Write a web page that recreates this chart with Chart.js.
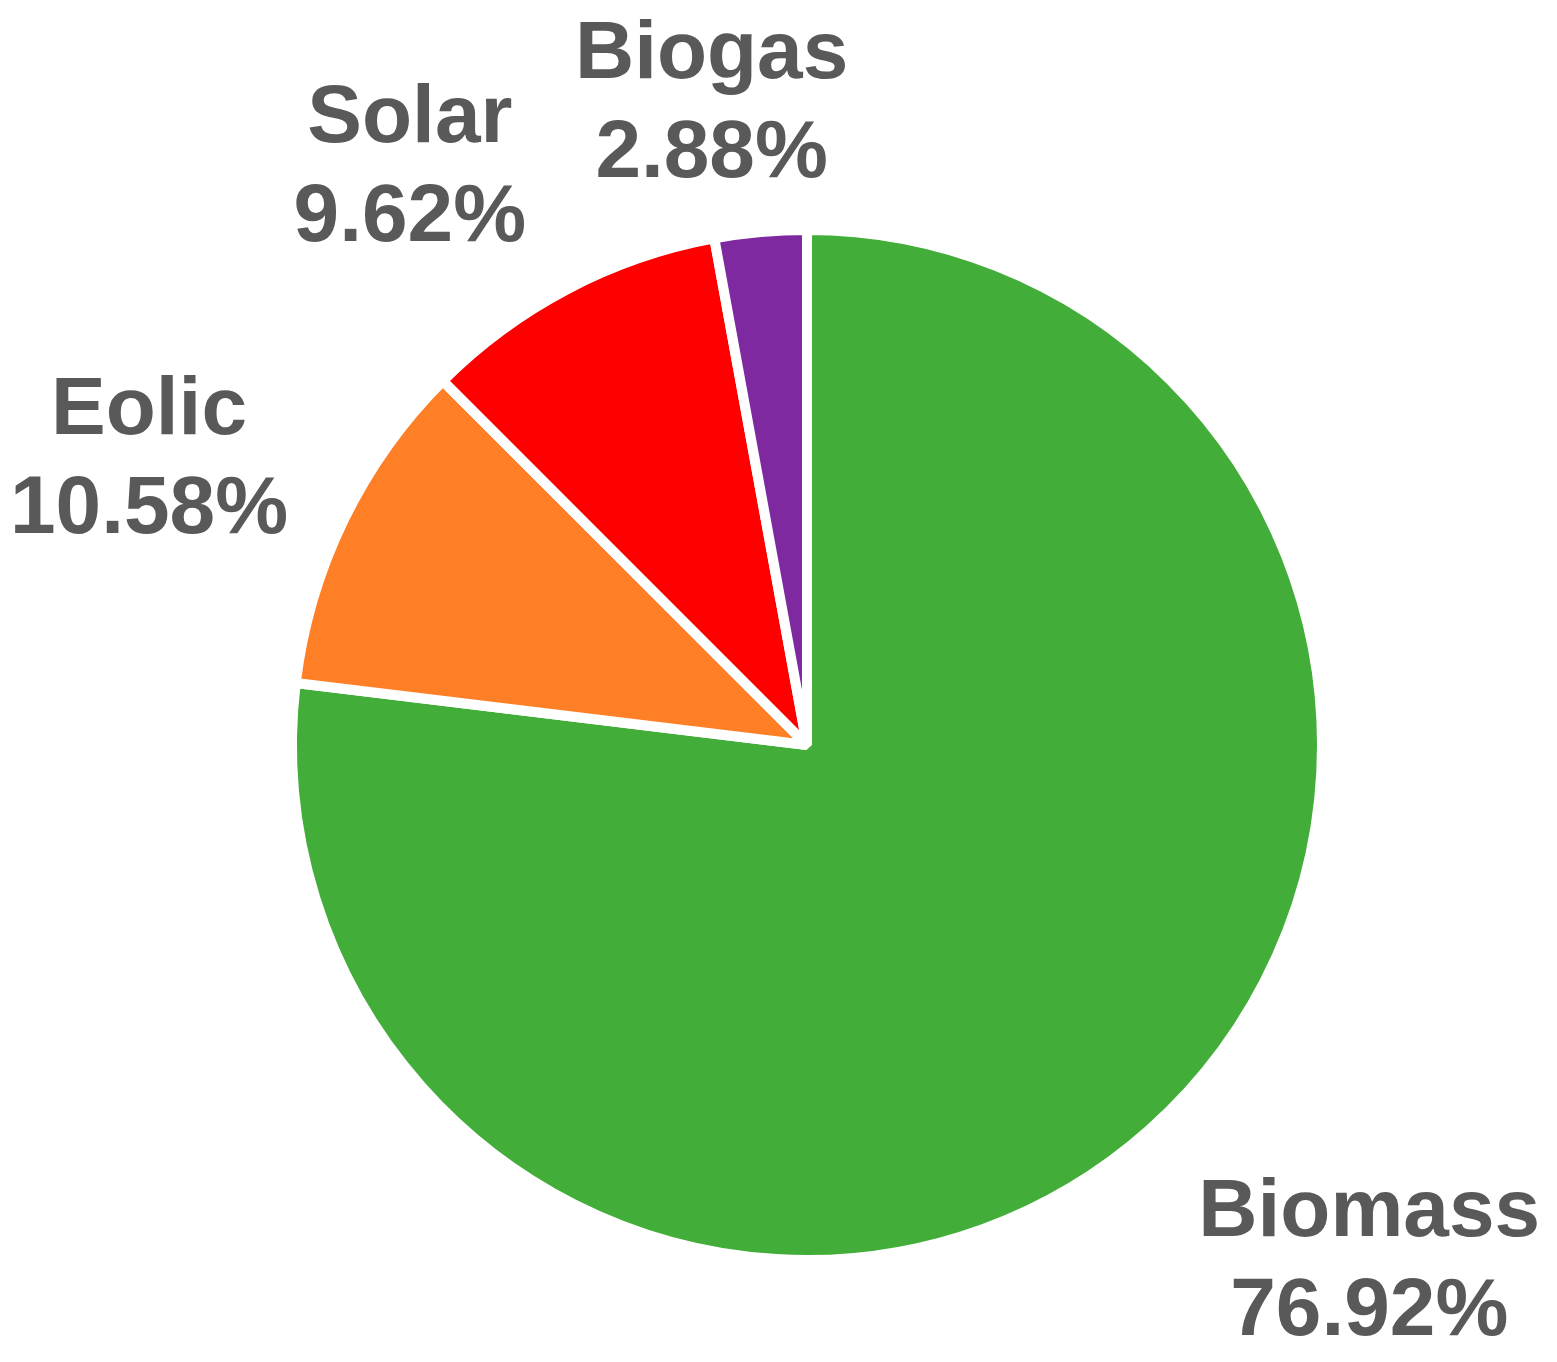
<!DOCTYPE html>
<html>
<head>
<meta charset="utf-8">
<title>Energy sources</title>
<script src="https://cdn.jsdelivr.net/npm/chart.js@4"></script>
<style>
  html, body { margin: 0; padding: 0; background: #fff; }
  #wrap { width: 1557px; height: 1362px; }
</style>
</head>
<body>
<div id="wrap"><canvas id="chart"></canvas></div>
<script>
// data
const labels = ["Biomass", "Eolic", "Solar", "Biogas"];
const shares = [76.92, 10.58, 9.62, 2.88];
const colors = ["#43ad3a", "#ff7f27", "#ff0000", "#7f29a1"];

// label placement around each slice: distance (x radius) and angle shift (deg)
const labelPlace = [
  { k: 1.475, da: -6.2 },
  { k: 1.397, da: -2.1 },
  { k: 1.369, da: -6.6 },
  { k: 1.270, da: -3.2 },
];

// draws "name / xx.xx%" outside each slice
const outsideLabels = {
  id: "outsideLabels",
  afterDatasetsDraw(chart) {
    const ctx = chart.ctx;
    const arcs = chart.getDatasetMeta(0).data;
    ctx.save();
    ctx.font = "bold 82px 'Liberation Sans', Arial, sans-serif";
    ctx.fillStyle = "#595959";
    ctx.textAlign = "center";
    ctx.textBaseline = "alphabetic";
    arcs.forEach((arc, i) => {
      const { x, y, startAngle, endAngle, outerRadius } = arc.getProps(
        ["x", "y", "startAngle", "endAngle", "outerRadius"], true);
      const p = labelPlace[i];
      const a = (startAngle + endAngle) / 2 + p.da * Math.PI / 180;
      const cx = x + Math.cos(a) * outerRadius * p.k;
      const cy = y + Math.sin(a) * outerRadius * p.k;
      ctx.fillText(labels[i], cx, cy - 20);
      ctx.fillText(shares[i].toFixed(2) + "%", cx, cy + 79);
    });
    ctx.restore();
  },
};

new Chart(document.querySelector("#chart"), {
  type: "pie",
  data: {
    labels: labels,
    datasets: [
      {
        data: shares,
        backgroundColor: colors,
        borderColor: "#ffffff",
        borderWidth: 10,
      },
    ],
  },
  options: {
    responsive: true,
    maintainAspectRatio: false,
    animation: false,
    layout: {
      padding: { top: 225, bottom: 97, left: 287, right: 230 },
    },
    plugins: {
      legend: { display: false },
      tooltip: { enabled: false },
    },
  },
  plugins: [outsideLabels],
});
</script>
</body>
</html>
